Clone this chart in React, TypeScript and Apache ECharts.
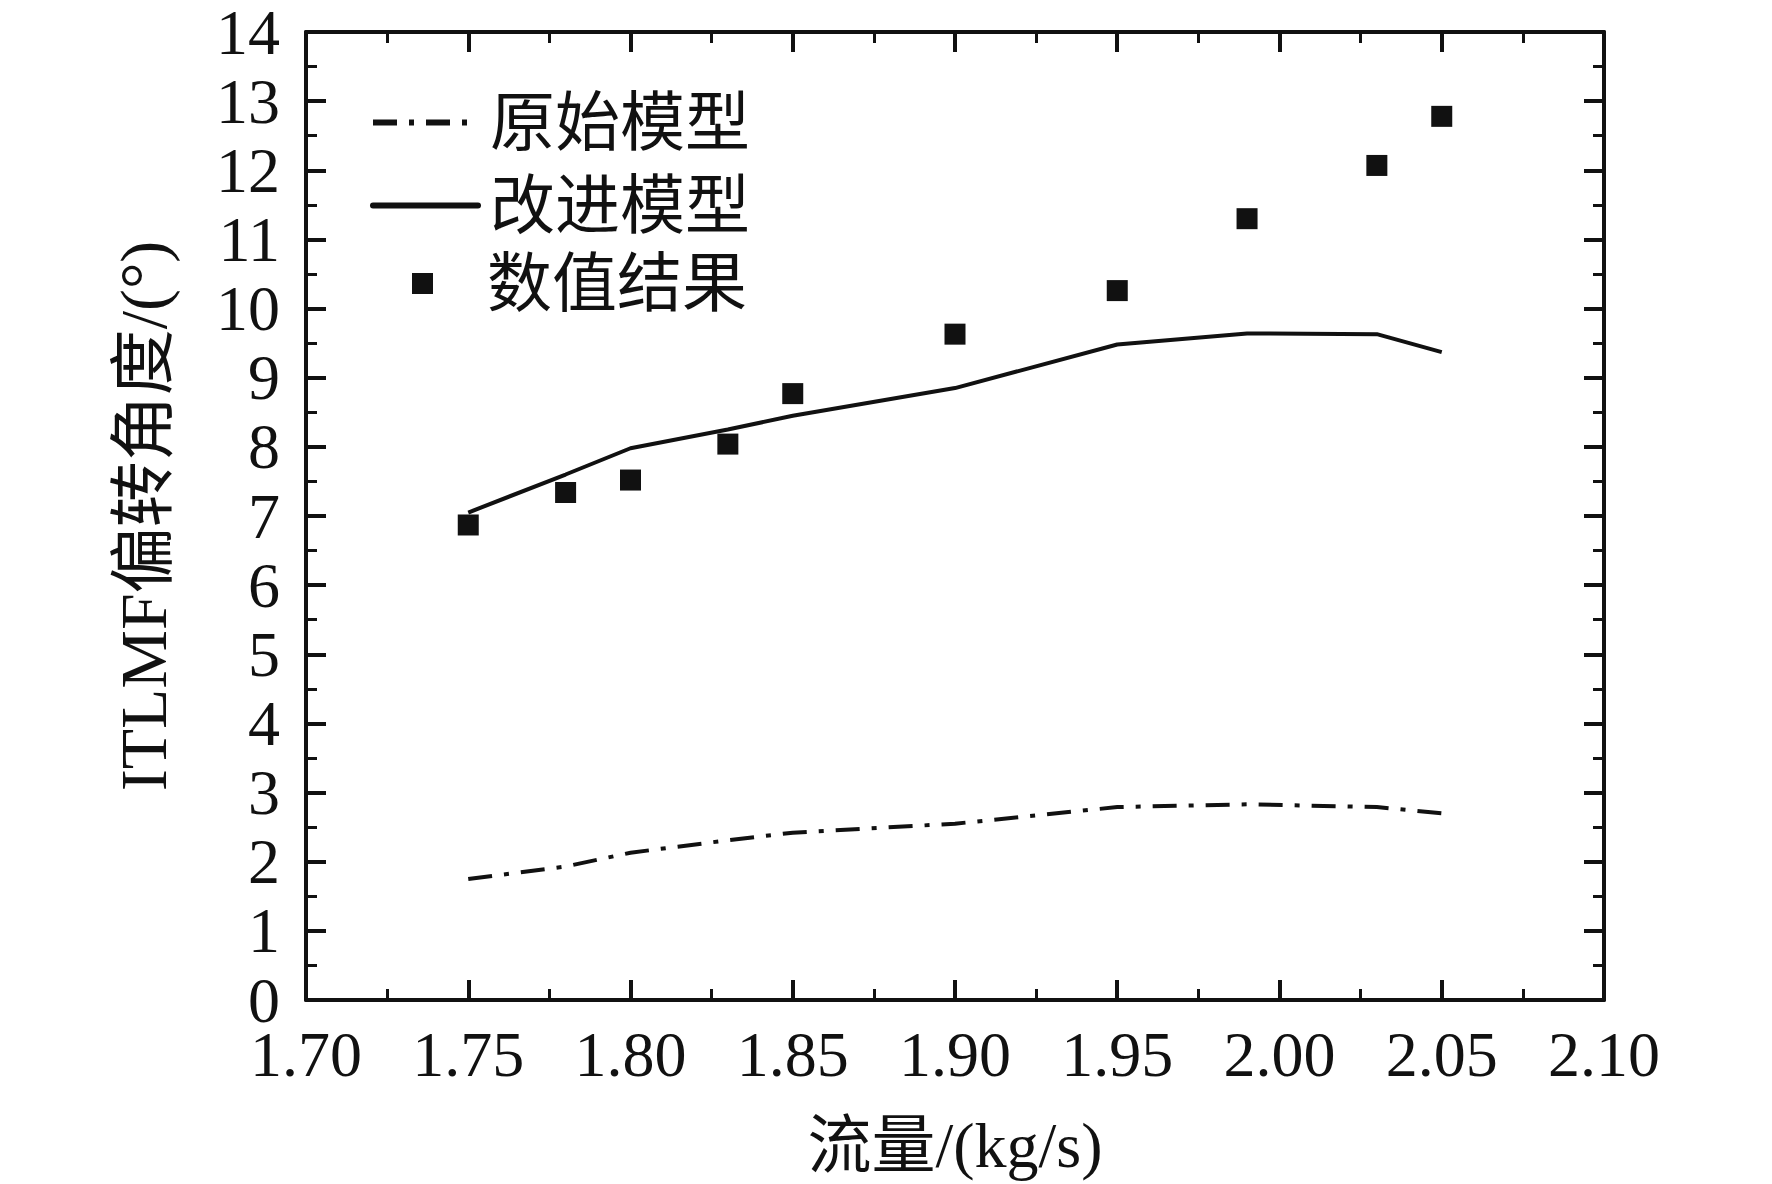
import { useEffect, useRef } from "react";
import * as echarts from "echarts";

// ---- data ----
const flowRates = [1.75, 1.78, 1.8, 1.83, 1.85, 1.9, 1.95, 1.99, 2.03, 2.05];
const originalModel = [1.75, 1.93, 2.13, 2.31, 2.42, 2.55, 2.79, 2.83, 2.79, 2.7];
const improvedModel = [7.05, 7.6, 7.98, 8.25, 8.45, 8.85, 9.48, 9.64, 9.63, 9.37];
const numericalResults = [6.87, 7.34, 7.52, 8.04, 8.77, 9.63, 10.26, 11.3, 12.07, 12.78];

const seriesNames = ["原始模型", "改进模型", "数值结果"];
const xAxisName = "流量/(kg/s)";
const yAxisName = "ITLMF偏转角度/(°)";
const xRange = [1.7, 2.1];
const xStep = 0.05;
const yRange = [0, 14];
const yStep = 1;

const INK = "#111111";
const LATIN = "'Liberation Serif', 'Times New Roman', serif";
const MIXED = "'Liberation Serif', 'Noto Sans CJK SC', serif";
const DASH_DOT = [24, 12, 5, 12];

function pairs(xs: number[], ys: number[]) {
  return xs.map((x, i) => [x, ys[i]]);
}

export default function App() {
  const ref = useRef<HTMLDivElement>(null);

  useEffect(() => {
    if (!ref.current) return;
    const chart = echarts.init(ref.current, undefined, { renderer: "svg" });

    const axisLine = { show: true, onZero: false, lineStyle: { color: INK, width: 4 } };
    const axisTick = { show: true, inside: true, length: 20, lineStyle: { color: INK, width: 4 } };
    const minorTick = { show: true, splitNumber: 2, length: 11, lineStyle: { color: INK, width: 3 } };

    const baseX = {
      type: "value" as const,
      min: xRange[0],
      max: xRange[1],
      interval: xStep,
      axisLine,
      axisTick,
      minorTick,
      splitLine: { show: false },
      minorSplitLine: { show: false },
    };
    const baseY = {
      type: "value" as const,
      min: yRange[0],
      max: yRange[1],
      interval: yStep,
      axisLine,
      axisTick,
      minorTick,
      splitLine: { show: false },
      minorSplitLine: { show: false },
    };

    const legendText = {
      fontSize: 65,
      fontFamily: MIXED,
      color: INK,
      padding: [0, 0, 0, 7],
    };
    const hiddenSymbol = { color: "transparent", opacity: 0, borderWidth: 0 };

    chart.setOption({
      animation: false,
      backgroundColor: "#ffffff",
      grid: { left: 306, top: 31, right: 168, bottom: 184, containLabel: false },
      xAxis: [
        {
          ...baseX,
          position: "bottom",
          name: xAxisName,
          nameLocation: "middle",
          nameGap: 113,
          nameTextStyle: { fontSize: 64, fontFamily: MIXED, color: INK },
          axisLabel: {
            show: true,
            margin: 22,
            fontSize: 64,
            fontFamily: LATIN,
            color: INK,
            formatter: (v: number) => v.toFixed(2),
          },
        },
        { ...baseX, position: "top", axisLabel: { show: false } },
      ],
      yAxis: [
        {
          ...baseY,
          position: "left",
          name: yAxisName,
          nameLocation: "middle",
          nameGap: 130,
          nameTextStyle: { fontSize: 66, fontFamily: MIXED, color: INK },
          axisLabel: {
            show: true,
            margin: 26,
            fontSize: 64,
            lineHeight: 52,
            fontFamily: LATIN,
            color: INK,
          },
        },
        { ...baseY, position: "right", axisLabel: { show: false } },
      ],
      legend: [
        {
          data: [seriesNames[0]],
          left: 370,
          top: 90,
          padding: 0,
          itemWidth: 105,
          itemHeight: 20,
          selectedMode: false,
          textStyle: legendText,
          itemStyle: hiddenSymbol,
          lineStyle: { width: 6, type: DASH_DOT, cap: "butt" },
        },
        {
          data: [seriesNames[1]],
          left: 370,
          top: 173,
          padding: 0,
          itemWidth: 105,
          itemHeight: 20,
          selectedMode: false,
          textStyle: legendText,
          itemStyle: hiddenSymbol,
          lineStyle: { width: 6, cap: "round" },
        },
        {
          data: [
            {
              name: seriesNames[2],
              icon: "path://M0 0H10V10H0Z",
            },
          ],
          left: 412,
          top: 251,
          padding: 0,
          itemWidth: 105,
          itemHeight: 21,
          symbolKeepAspect: true,
          selectedMode: false,
          textStyle: legendText,
          itemStyle: { color: INK, opacity: 1 },
        },
      ],
      series: [
        {
          name: seriesNames[0],
          type: "line",
          data: pairs(flowRates, originalModel),
          symbol: "none",
          smooth: false,
          lineStyle: { color: INK, width: 4, type: DASH_DOT },
          itemStyle: { color: INK },
          z: 3,
        },
        {
          name: seriesNames[1],
          type: "line",
          data: pairs(flowRates, improvedModel),
          symbol: "none",
          smooth: false,
          lineStyle: { color: INK, width: 4, type: "solid" },
          itemStyle: { color: INK },
          z: 3,
        },
        {
          name: seriesNames[2],
          type: "scatter",
          data: pairs(flowRates, numericalResults),
          symbol: "rect",
          symbolSize: 21,
          itemStyle: { color: INK, opacity: 1 },
          z: 4,
        },
      ],
    });

    return () => chart.dispose();
  }, []);

  return (
    <div
      ref={ref}
      style={{ position: "fixed", left: 0, top: 0, width: 1772, height: 1184, background: "#fff" }}
    />
  );
}
